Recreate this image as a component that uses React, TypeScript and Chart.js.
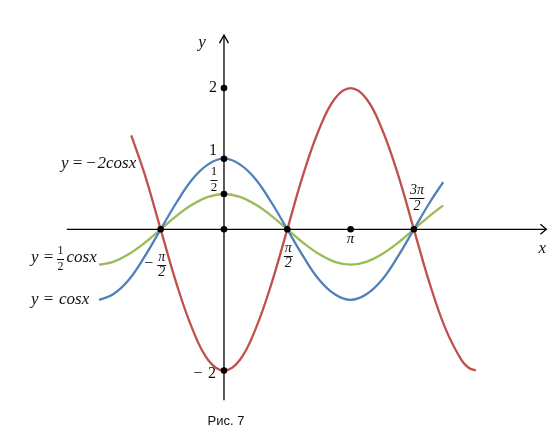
import React, { useEffect, useRef } from "react";
import { Chart, registerables } from "chart.js";

Chart.register(...registerables);

// y = cos x
const blueX = [-3.1, -2.749, -2.356, -1.963, -1.571, -1.178, -0.785, -0.393, 0, 0.393, 0.785, 1.178, 1.571, 1.963, 2.356, 2.749, 3.142, 3.534, 3.927, 4.32, 4.712, 5.105, 5.44];
const blueY = [-1.0, -0.92, -0.71, -0.38, 0, 0.38, 0.71, 0.92, 1, 0.92, 0.71, 0.38, 0, -0.38, -0.71, -0.92, -1, -0.92, -0.71, -0.38, 0, 0.38, 0.67];
// y = 1/2 cos x
const greenX = [-3.1, -2.749, -2.356, -1.963, -1.571, -1.178, -0.785, -0.393, 0, 0.393, 0.785, 1.178, 1.571, 1.963, 2.356, 2.749, 3.142, 3.534, 3.927, 4.32, 4.712, 5.105, 5.44];
const greenY = [-0.5, -0.46, -0.35, -0.19, 0, 0.19, 0.35, 0.46, 0.5, 0.46, 0.35, 0.19, 0, -0.19, -0.35, -0.46, -0.5, -0.46, -0.35, -0.19, 0, 0.19, 0.34];
// y = -2 cos x
const redX = [-2.3, -1.963, -1.571, -1.178, -0.785, -0.393, 0, 0.393, 0.785, 1.178, 1.571, 1.963, 2.356, 2.749, 3.142, 3.534, 3.927, 4.32, 4.712, 5.105, 5.498, 5.89, 6.07, 6.25];
const redY = [1.33, 0.77, 0, -0.77, -1.41, -1.85, -2, -1.85, -1.41, -0.77, 0, 0.77, 1.41, 1.85, 2, 1.85, 1.41, 0.77, 0, -0.77, -1.41, -1.85, -1.96, -2.0];

// marked points
const markerX = [0, 0, 0, 0, -1.571, 1.571, 3.142, 4.712, 0];
const markerY = [2, 1, 0.5, 0, 0, 0, 0, 0, -2];

// tick labels
const yTickValues = [2, 1, -2];
const yTickLabels = ["2", "1", "2"];
const xTickValues = [-1.571, 1.571, 3.142, 4.712];

const CAPTION = "Рис. 7";

const X_MIN = -5.558, X_MAX = 8.164, Y_MIN = -2.899, Y_MAX = 3.248;
const AXIS_X_FROM = -3.9, AXIS_X_TO = 8.0, AXIS_Y_FROM = -2.42, AXIS_Y_TO = 2.75;

const RED = "#C0504D", BLUE = "#4F81BD", GREEN = "#9BBB59";
const TXT = "#111";
const SERIF = '"Liberation Serif", "DejaVu Serif", serif';

function pts(xs: number[], ys: number[]) {
  return xs.map((x, i) => ({ x, y: ys[i] }));
}

function txt(ctx: CanvasRenderingContext2D, s: string, x: number, y: number, font: string, align: CanvasTextAlign = "center") {
  ctx.font = font;
  ctx.textAlign = align;
  ctx.textBaseline = "middle";
  ctx.fillText(s, x, y);
}

function frac(ctx: CanvasRenderingContext2D, num: string, den: string, cx: number, yNum: number, yDen: number, w: number, font: string) {
  txt(ctx, num, cx, yNum, font);
  txt(ctx, den, cx, yDen, font);
  const ly = Math.round((yNum + yDen) / 2) + 0.5;
  ctx.beginPath();
  ctx.lineWidth = 1;
  ctx.moveTo(cx - w / 2, ly);
  ctx.lineTo(cx + w / 2, ly);
  ctx.stroke();
}

const axesPlugin = {
  id: "mathAxes",
  beforeDatasetsDraw(chart: any) {
    const { ctx, scales } = chart;
    const xs = scales.x, ys = scales.y;
    const x0 = xs.getPixelForValue(0), y0 = ys.getPixelForValue(0);
    ctx.save();
    ctx.strokeStyle = "#000";
    ctx.lineWidth = 1.3;
    const xa = xs.getPixelForValue(AXIS_X_FROM), xb = xs.getPixelForValue(AXIS_X_TO);
    ctx.beginPath();
    ctx.moveTo(xa, y0);
    ctx.lineTo(xb, y0);
    ctx.stroke();
    ctx.beginPath();
    ctx.moveTo(xb - 6, y0 - 5);
    ctx.lineTo(xb, y0);
    ctx.lineTo(xb - 6, y0 + 5);
    ctx.stroke();
    const ya = ys.getPixelForValue(AXIS_Y_FROM), yb = ys.getPixelForValue(AXIS_Y_TO);
    ctx.beginPath();
    ctx.moveTo(x0, ya);
    ctx.lineTo(x0, yb);
    ctx.stroke();
    ctx.beginPath();
    ctx.moveTo(x0 - 4.5, yb + 8);
    ctx.lineTo(x0, yb);
    ctx.lineTo(x0 + 4.5, yb + 8);
    ctx.stroke();
    ctx.restore();
  },
  afterDatasetsDraw(chart: any) {
    const { ctx, scales } = chart;
    const xs = scales.x, ys = scales.y;
    const x0 = xs.getPixelForValue(0), y0 = ys.getPixelForValue(0);
    const it = (n: number) => `italic ${n}px ${SERIF}`;
    const up = (n: number) => `${n}px ${SERIF}`;
    ctx.save();
    ctx.fillStyle = TXT;
    ctx.strokeStyle = TXT;

    // axis names
    txt(ctx, "y", x0 - 22, ys.getPixelForValue(AXIS_Y_TO) + 7, it(17));
    txt(ctx, "x", xs.getPixelForValue(AXIS_X_TO) - 4, y0 + 19, it(17));

    // y ticks
    txt(ctx, yTickLabels[0], x0 - 7, ys.getPixelForValue(yTickValues[0]), up(16), "right");
    txt(ctx, yTickLabels[1], x0 - 7, ys.getPixelForValue(yTickValues[1]) - 8, up(16), "right");
    frac(ctx, "1", "2", x0 - 10, ys.getPixelForValue(0.5) - 22, ys.getPixelForValue(0.5) - 6, 7, up(13));
    txt(ctx, "−", x0 - 26, ys.getPixelForValue(yTickValues[2]) + 3, up(16));
    txt(ctx, yTickLabels[2], x0 - 12, ys.getPixelForValue(yTickValues[2]) + 3, up(16));

    // x ticks
    const mx = xs.getPixelForValue(xTickValues[0]);
    txt(ctx, "−", mx - 12, y0 + 34, up(16));
    frac(ctx, "π", "2", mx + 1, y0 + 28, y0 + 43, 9, it(14));
    const p2 = xs.getPixelForValue(xTickValues[1]);
    frac(ctx, "π", "2", p2 + 1, y0 + 19, y0 + 34, 9, it(14));
    const p1 = xs.getPixelForValue(xTickValues[2]);
    txt(ctx, "π", p1, y0 + 10, it(15));
    const p3 = xs.getPixelForValue(xTickValues[3]);
    frac(ctx, "3π", "2", p3 + 3, y0 - 39, y0 - 23, 15, it(14));

    // curve names
    const f = it(17);
    // y = -2cosx
    const ry = ys.getPixelForValue(0) - 66;
    txt(ctx, "y", 61, ry, f, "left");
    txt(ctx, "=", 77.5, ry, up(17));
    txt(ctx, "−", 91, ry, up(17));
    txt(ctx, "2cosx", 97.5, ry, f, "left");
    // y = 1/2 cosx
    const gy = ys.getPixelForValue(greenY[0]) - 7;
    txt(ctx, "y", 31, gy, f, "left");
    txt(ctx, "=", 48.5, gy, up(17));
    frac(ctx, "1", "2", 60.5, gy - 7, gy + 9, 7, up(12));
    txt(ctx, "cosx", 66.5, gy, f, "left");
    // y = cosx
    const by = ys.getPixelForValue(blueY[0]);
    txt(ctx, "y", 31, by, f, "left");
    txt(ctx, "=", 48.5, by, up(17));
    txt(ctx, "cosx", 59, by, f, "left");

    // caption
    txt(ctx, CAPTION, 226, 421, '13px "Liberation Sans", Arial, sans-serif');
    ctx.restore();
  },
};

export default function App() {
  const ref = useRef<HTMLCanvasElement | null>(null);
  useEffect(() => {
    if (!ref.current) return;
    const line = (data: any, color: string) => ({
      type: "line" as const,
      data,
      borderColor: color,
      borderWidth: 2.3,
      pointRadius: 0,
      fill: false,
      tension: 0.4,
      order: 2,
    });
    const chart = new Chart(ref.current, {
      type: "line",
      data: {
        datasets: [
          line(pts(redX, redY), RED) as any,
          line(pts(blueX, blueY), BLUE) as any,
          line(pts(greenX, greenY), GREEN) as any,
          {
            type: "scatter",
            data: pts(markerX, markerY),
            pointRadius: 3.3,
            pointBackgroundColor: "#000",
            pointBorderColor: "#000",
            pointBorderWidth: 0,
            showLine: false,
            order: 0,
          } as any,
        ],
      },
      options: {
        animation: false,
        responsive: false,
        maintainAspectRatio: false,
        layout: { padding: 0, autoPadding: false },
        plugins: { legend: { display: false }, tooltip: { enabled: false } },
        events: [],
        scales: {
          x: { type: "linear", min: X_MIN, max: X_MAX, display: false },
          y: { type: "linear", min: Y_MIN, max: Y_MAX, display: false },
        },
      },
      plugins: [axesPlugin],
    });
    return () => chart.destroy();
  }, []);
  return (
    <div style={{ position: "fixed", left: 0, top: 0, width: 553, height: 434, background: "#fff" }}>
      <canvas ref={ref} width={553} height={434} style={{ display: "block", width: 553, height: 434 }} />
    </div>
  );
}
